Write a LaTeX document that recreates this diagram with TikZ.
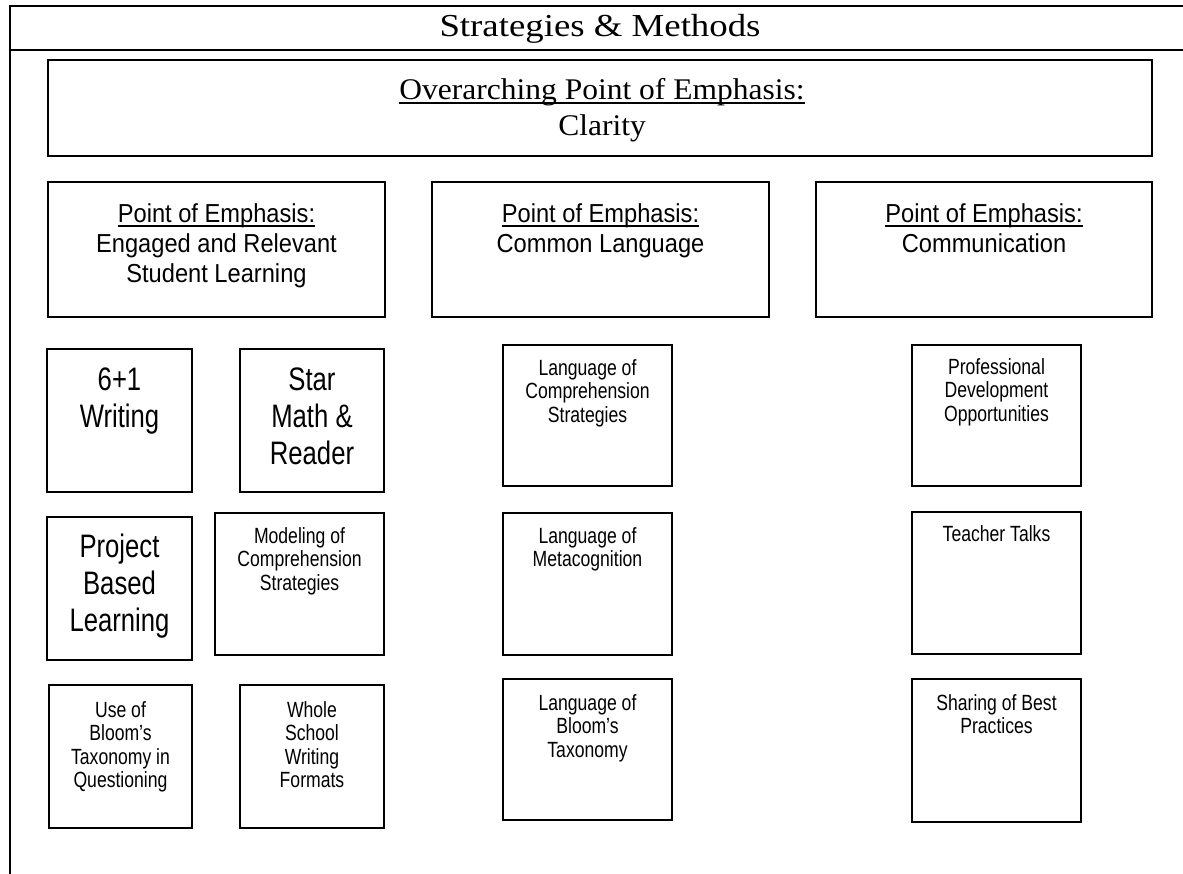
\documentclass[tikz,border=0pt]{standalone}
\usepackage{fontspec}
\setmainfont{Liberation Serif}
\newfontfamily\titlef[FakeStretch=1.15]{Liberation Serif}
\newfontfamily\serf[FakeStretch=1.05]{Liberation Serif}
\newfontfamily\poef[FakeStretch=0.91]{Liberation Sans}
\newfontfamily\bigf[FakeStretch=0.79]{Liberation Sans}
\newfontfamily\smf[FakeStretch=0.80]{Liberation Sans}
\newcommand{\mlines}[1]{\begin{tabular}[t]{@{}c@{}}#1\end{tabular}}
\newcommand{\myul}[1]{\setbox0\hbox{#1}\rlap{\rule[-4.5pt]{\wd0}{1.7pt}}\box0}
\tikzset{
  frame/.style={line width=2pt, line cap=rect},
  box/.style={draw, line width=1.7pt, inner sep=0pt, outer sep=0pt, anchor=north west},
  txt/.style={anchor=base, inner sep=0pt, outer sep=0pt, text=black},
  titletxt/.style={txt, font=\titlef\fontsize{32}{36}\selectfont},
  sertxt/.style={txt, font=\serf\fontsize{30}{36}\selectfont},
  poetxt/.style={txt, font=\poef\fontsize{26}{30}\selectfont},
  bigtxt/.style={txt, font=\bigf\fontsize{32.5}{37}\selectfont},
  smtxt/.style={txt, font=\smf\fontsize{22}{23.5}\selectfont},
}
\begin{document}
\begin{tikzpicture}[x=1pt, y=-1pt]
\useasboundingbox (0,0) rectangle (1183,873);
% frame
\draw[frame] (9.5,6) -- (1183,6);
\draw[frame] (9.5,50) -- (1183,50);
\draw[frame] (9.5,6) -- (9.5,873);
\node[titletxt] (title) at (600,36) {Strategies \& Methods};

% overarching
\node[box, minimum width=1104pt, minimum height=96pt] (over) at (48,60) {};
\node[sertxt] (overt) at (602,99) {\mlines{\myul{Overarching Point of Emphasis:}\\Clarity}};

% points of emphasis
\node[box, minimum width=337pt, minimum height=135pt] (p1) at (48,182) {};
\node[box, minimum width=337pt, minimum height=135pt] (p2) at (432,182) {};
\node[box, minimum width=336pt, minimum height=135pt] (p3) at (816,182) {};
\node[poetxt] (p1t) at (216.5,222) {\mlines{\myul{Point of Emphasis:}\\Engaged and Relevant\\Student Learning}};
\node[poetxt] (p2t) at (600.5,222) {\mlines{\myul{Point of Emphasis:}\\Common Language}};
\node[poetxt] (p3t) at (984,222) {\mlines{\myul{Point of Emphasis:}\\Communication}};

% left column boxes
\node[box, minimum width=145pt, minimum height=143pt] (a1) at (47,349) {};
\node[box, minimum width=144pt, minimum height=143pt] (a2) at (240,349) {};
\node[box, minimum width=145pt, minimum height=143pt] (a3) at (47,517) {};
\node[box, minimum width=169pt, minimum height=142pt] (a4) at (215,513) {};
\node[box, minimum width=143pt, minimum height=143pt] (a5) at (49,685) {};
\node[box, minimum width=144pt, minimum height=143pt] (a6) at (240,685) {};
\node[bigtxt] (a1t) at (119.5,390) {\mlines{6+1\\Writing}};
\node[bigtxt] (a2t) at (312,390) {\mlines{Star\\Math \&\\Reader}};
\node[bigtxt] (a3t) at (119.5,557) {\mlines{Project\\Based\\Learning}};
\node[smtxt] (a4t) at (299.5,543) {\mlines{Modeling of\\Comprehension\\Strategies}};
\node[smtxt] (a5t) at (120.5,717) {\mlines{Use of\\Bloom’s\\Taxonomy in\\Questioning}};
\node[smtxt] (a6t) at (312,717) {\mlines{Whole\\School\\Writing\\Formats}};

% middle column boxes
\node[box, minimum width=169pt, minimum height=141pt] (b1) at (503,345) {};
\node[box, minimum width=169pt, minimum height=142pt] (b2) at (503,513) {};
\node[box, minimum width=169pt, minimum height=141pt] (b3) at (503,679) {};
\node[smtxt] (b1t) at (587.5,375) {\mlines{Language of\\Comprehension\\Strategies}};
\node[smtxt] (b2t) at (587.5,543) {\mlines{Language of\\Metacognition}};
\node[smtxt] (b3t) at (587.5,710) {\mlines{Language of\\Bloom’s\\Taxonomy}};

% right column boxes
\node[box, minimum width=169pt, minimum height=141pt] (c1) at (912,345) {};
\node[box, minimum width=169pt, minimum height=142pt] (c2) at (912,512) {};
\node[box, minimum width=169pt, minimum height=143pt] (c3) at (912,679) {};
\node[smtxt] (c1t) at (996.5,374) {\mlines{Professional\\Development\\Opportunities}};
\node[smtxt] (c2t) at (996.5,541) {\mlines{Teacher Talks}};
\node[smtxt] (c3t) at (996.5,710) {\mlines{Sharing of Best\\Practices}};
\end{tikzpicture}
\end{document}
